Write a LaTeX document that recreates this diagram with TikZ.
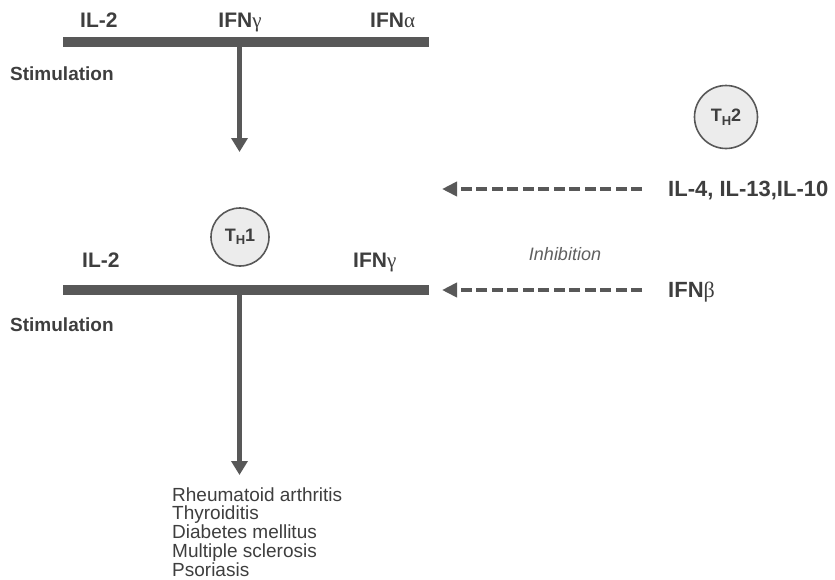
\documentclass[tikz,border=0pt]{standalone}
\usepackage{fontspec}
\setmainfont{Liberation Sans}
\newfontfamily\grk{Liberation Serif}
\usetikzlibrary{arrows.meta}
\definecolor{barc}{RGB}{88,88,88}
\definecolor{txt}{RGB}{62,62,62}
\definecolor{lighttxt}{RGB}{95,95,95}
\definecolor{circfill}{RGB}{236,236,236}
\newcommand{\gk}[1]{{\grk\mdseries #1}}
\newcommand{\Tsub}[1]{T\raisebox{-3.5pt}{\fontsize{13}{13}\selectfont H}#1}
\begin{document}
\begin{tikzpicture}[x=1pt,y=-1pt,
  bar/.style={rectangle, fill=barc, draw=none, minimum width=366pt, minimum height=10pt, inner sep=0pt},
  lab/.style={font=\fontsize{21}{21}\selectfont\bfseries, text=txt, inner sep=0pt},
  rlab/.style={font=\fontsize{22}{22}\selectfont\bfseries, text=txt, inner sep=0pt, anchor=base west},
  stim/.style={font=\fontsize{19}{19}\selectfont\bfseries, text=txt, inner sep=0pt, anchor=base west},
  dis/.style={font=\fontsize{19}{19}\selectfont, text=txt, inner sep=0pt, anchor=base west},
  cell/.style={circle, draw=barc, line width=1.6pt, fill=circfill, inner sep=0pt, font=\fontsize{18}{18}\selectfont\bfseries, text=txt},
  arr/.style={draw=barc, line width=5pt, -{Triangle[length=14pt,width=16pt]}},
  darr/.style={draw=barc, line width=4.5pt, dash pattern=on 11pt off 4.5pt, -{Triangle[length=15pt,width=14pt]}}]
\useasboundingbox (0,0) rectangle (835,579);
% top stimulation
\node[bar] (bar1) at (246,41.5) {};
\node[lab, anchor=base west] (il2a) at (80,27) {IL-2};
\node[lab, anchor=base] (ifnga) at (240,27) {IFN\gk{γ}};
\node[lab, anchor=base west] (ifnaa) at (370,27) {IFN\gk{α}};
\node[stim] (stim1) at (10,80) {Stimulation};
\coordinate (tip1) at (239.5,152);
\draw[arr] (bar1.south -| tip1) -- (tip1);
% cells
\node[cell, minimum size=58pt] (th1) at (240,237) {\Tsub{1}};
\node[cell, minimum size=63pt] (th2) at (726,117) {\Tsub{2}};
% lower stimulation
\node[bar] (bar2) at (246,290) {};
\node[lab, anchor=base west] (il2b) at (82,267) {IL-2};
\node[lab, anchor=base west] (ifngb) at (353,267) {IFN\gk{γ}};
\node[stim] (stim2) at (10,331) {Stimulation};
\coordinate (tip2) at (239.5,475);
\draw[arr] (bar2.south -| tip2) -- (tip2);
% inhibition
\node[rlab] (il4) at (668,196) {IL-4, IL-13,IL-10};
\node[rlab] (ifnb) at (668,297) {IFN\gk{β}};
\node[font=\fontsize{18}{18}\selectfont\itshape, text=lighttxt, inner sep=0pt, anchor=base] (inh) at (565,260) {Inhibition};
\coordinate (srcA) at (642,189);
\coordinate (tipA) at (442,189);
\coordinate (srcB) at (642,290);
\coordinate (tipB) at (442,290);
\draw[darr] (srcA) -- (tipA);
\draw[darr] (srcB) -- (tipB);
% diseases
\node[dis] (d1) at (172,501) {Rheumatoid arthritis};
\node[dis] (d2) at (172,519.75) {Thyroiditis};
\node[dis] (d3) at (172,538.5) {Diabetes mellitus};
\node[dis] (d4) at (172,557.25) {Multiple sclerosis};
\node[dis] (d5) at (172,576) {Psoriasis};
\end{tikzpicture}
\end{document}
